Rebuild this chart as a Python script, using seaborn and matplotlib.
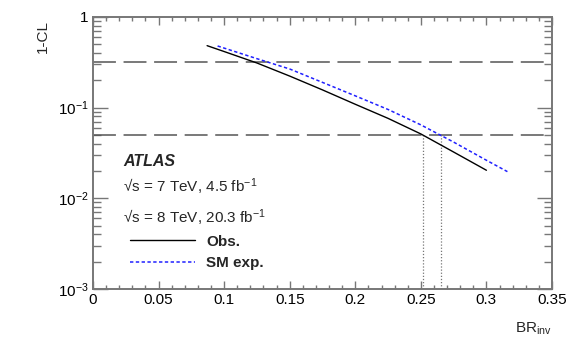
import numpy as np
import pandas as pd
import matplotlib
matplotlib.use("Agg")
import matplotlib.pyplot as plt
import matplotlib.ticker as mticker
import seaborn as sns

# Values
obs_br = [0.087, 0.10, 0.125, 0.15, 0.175, 0.20, 0.225, 0.25, 0.275, 0.30]
obs_cl = [0.483, 0.416, 0.311, 0.223, 0.157, 0.109, 0.0762, 0.0513, 0.0324, 0.0204]
exp_br = [0.095, 0.125, 0.15, 0.175, 0.20, 0.225, 0.25, 0.275, 0.30, 0.316]
exp_cl = [0.479, 0.347, 0.267, 0.190, 0.135, 0.0955, 0.0646, 0.0417, 0.0263, 0.0197]
ref_levels = [0.3173, 0.05]
limit_obs = 0.2513
limit_exp = 0.265

sns.set_theme(style="ticks")
plt.rcParams['font.family'] = ['Liberation Sans', 'DejaVu Sans']
plt.rcParams['mathtext.fontset'] = 'custom'
plt.rcParams['mathtext.rm'] = 'Liberation Sans'
plt.rcParams['mathtext.it'] = 'Liberation Sans:italic'
plt.rcParams['mathtext.bf'] = 'Liberation Sans:bold'

fig = plt.figure(figsize=(5.81, 3.45), dpi=100)
ax = fig.add_axes([93 / 581, 1 - 289 / 345, 459 / 581, 272 / 345])

obs = pd.DataFrame({'br': obs_br, 'cl': obs_cl})
exp = pd.DataFrame({'br': exp_br, 'cl': exp_cl})

# reference levels (1 sigma and 95% CL)
for lv in ref_levels:
    ax.axhline(lv, color='#555555', lw=1.1, dashes=(15, 5), zorder=1)

# limit markers
ax.vlines([limit_obs, limit_exp], 1e-3, ref_levels[1], color='#777777',
          lw=0.9, linestyles=(0, (1, 1.5)), zorder=1)

sns.lineplot(data=obs, x='br', y='cl', ax=ax, color='black', lw=1.0,
             label='Obs.', zorder=3)
sns.lineplot(data=exp, x='br', y='cl', ax=ax, color='#2020ff', lw=1.1,
             label='SM exp.', zorder=3)
ax.lines[-1].set_dashes((2.2, 1.6))

ax.set_yscale('log')
ax.set_xlim(0, 0.35)
ax.set_ylim(1e-3, 1)
ax.set_xlabel('')
ax.set_ylabel('')

ax.xaxis.set_major_locator(mticker.MultipleLocator(0.05))
ax.xaxis.set_minor_locator(mticker.MultipleLocator(0.01))
ax.xaxis.set_major_formatter(mticker.FuncFormatter(lambda v, p: '0' if v == 0 else f'{v:g}'))
ax.yaxis.set_major_locator(mticker.FixedLocator([1e-3, 1e-2, 1e-1, 1]))
ax.yaxis.set_major_formatter(mticker.FixedFormatter(
    [r'$10^{-3}$', r'$10^{-2}$', r'$10^{-1}$', '1']))
ax.yaxis.set_minor_locator(mticker.LogLocator(base=10, subs=np.arange(2, 10)))
ax.yaxis.set_minor_formatter(mticker.NullFormatter())

frame_col = '#777777'
for s in ax.spines.values():
    s.set_color(frame_col)
    s.set_linewidth(1.4)
ax.tick_params(axis='both', which='both', direction='in', top=True, right=True,
               colors=frame_col, labelcolor='black', labelsize=11, pad=3)
ax.tick_params(axis='x', which='major', length=6, width=1)
ax.tick_params(axis='x', which='minor', length=3, width=1)
ax.tick_params(axis='y', which='major', length=11, width=1)
ax.tick_params(axis='y', which='minor', length=5.5, width=1)

# axis titles placed like ROOT
fig.text(43 / 581, 1 - 20 / 345, '1-CL', rotation=90, ha='center', va='top', fontsize=11)
fig.text(552 / 581, 1 - 329 / 345, r'BR$_{\mathrm{inv}}$', ha='right', va='center', fontsize=11)

# labels
ax.text(0.065, 0.467, 'ATLAS', transform=ax.transAxes, fontsize=11.5,
        fontweight='bold', fontstyle='italic', va='center')
ax.text(0.065, 0.375, '\u221as = 7 TeV, 4.5 fb$^{-1}$', transform=ax.transAxes,
        fontsize=11, va='center')
ax.text(0.065, 0.261, '\u221as = 8 TeV, 20.3 fb$^{-1}$', transform=ax.transAxes,
        fontsize=11, va='center')

ax.legend(loc='upper left', bbox_to_anchor=(0.08, 0.20), frameon=False,
          prop={'weight': 'bold', 'size': 11}, handlelength=4.3,
          handletextpad=0.7, labelspacing=0.5, borderpad=0, borderaxespad=0)

fig.savefig('out.png', dpi=100)
